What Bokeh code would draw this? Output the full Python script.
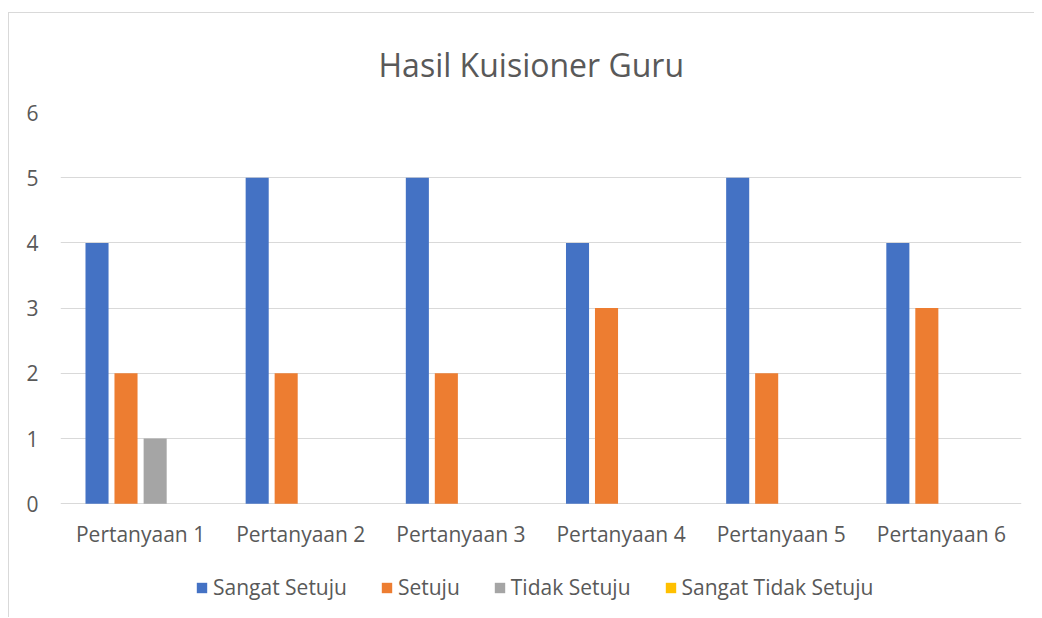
from bokeh.plotting import figure
from bokeh.models import FactorRange, Legend, LegendItem, ColumnDataSource
from bokeh.transform import dodge
from bokeh.embed import file_html
from bokeh.resources import INLINE

categories = ["Pertanyaan 1", "Pertanyaan 2", "Pertanyaan 3", "Pertanyaan 4", "Pertanyaan 5", "Pertanyaan 6"]
sangat_setuju = [4, 5, 5, 4, 5, 4]
setuju = [2, 2, 2, 3, 2, 3]
tidak_setuju = [1, 0, 0, 0, 0, 0]
sangat_tidak_setuju = [0, 0, 0, 0, 0, 0]
series_names = ["Sangat Setuju", "Setuju", "Tidak Setuju", "Sangat Tidak Setuju"]
colors = ["#4472C4", "#ED7D31", "#A5A5A5", "#FFC000"]
y_ticks = [0, 1, 2, 3, 4, 5, 6]

FONT = "Open Sans"
TXT = "#595959"

source = ColumnDataSource(dict(cat=categories, s0=sangat_setuju, s1=setuju, s2=tidak_setuju, s3=sangat_tidak_setuju))

# frame extends below the value axis so the legend can sit inside it
p = figure(x_range=FactorRange(*categories, range_padding=0), y_range=(-1.745, 6),
           frame_width=961, frame_height=505, output_backend="svg", toolbar_location=None,
           min_border_left=51, min_border_right=13, min_border_top=98, min_border_bottom=0)
p.margin = (12, 0, 0, 8)
p.styles = {"border-left": "1px solid #d9d9d9", "border-top": "1px solid #d9d9d9"}
p.outline_line_color = None
p.background_fill_color = "white"
p.border_fill_color = "white"

p.title.text = "Hasil Kuisioner Guru"
p.title.align = "left"
p.title.offset = 318
p.title.standoff = 54
p.title.text_font = FONT
p.title.text_font_size = "32px"
p.title.text_font_style = "normal"
p.title.text_color = TXT

offsets = [-0.272, -0.091, 0.091, 0.272]
renderers = []
for i, (name, col) in enumerate(zip(series_names, colors)):
    r = p.vbar(x=dodge("cat", offsets[i], range=p.x_range), top="s%d" % i, width=0.144,
               source=source, fill_color=col, line_color=None)
    renderers.append(r)

p.xgrid.grid_line_color = None
p.ygrid.grid_line_color = "#d9d9d9"
p.ygrid.grid_line_width = 1
p.yaxis.ticker = y_ticks
p.xaxis.fixed_location = 0

for ax in (p.xaxis[0], p.yaxis[0]):
    ax.axis_line_color = None
    ax.major_tick_line_color = None
    ax.minor_tick_line_color = None
    ax.major_tick_out = 0
    ax.major_label_text_font = FONT
    ax.major_label_text_font_size = "21px"
    ax.major_label_text_color = TXT
p.yaxis.major_label_standoff = 22
p.xaxis.major_label_standoff = 16

legend = Legend(items=[LegendItem(label=n, renderers=[r]) for n, r in zip(series_names, renderers)],
                orientation="horizontal", location=(135, 16),
                glyph_width=13, glyph_height=13, label_standoff=5, spacing=33,
                label_height=21, padding=0, margin=0, border_line_color=None, background_fill_alpha=0,
                label_text_font=FONT, label_text_font_size="21px", label_text_color=TXT)
p.add_layout(legend, "center")

open("out.html", "w").write(file_html(p, INLINE))
